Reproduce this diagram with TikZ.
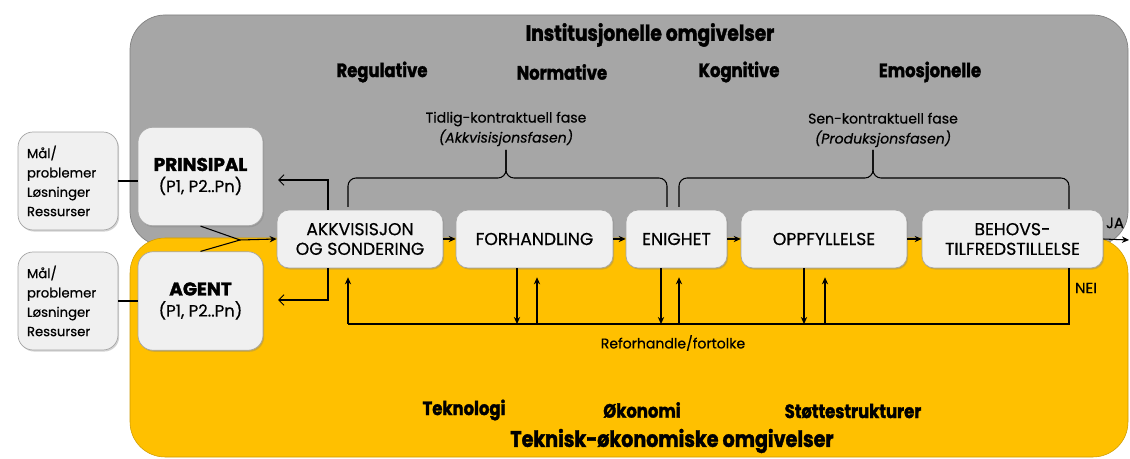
\documentclass[tikz,border=0pt]{standalone}
\usepackage{fontspec}
\setmainfont{Poppins}
\newfontfamily\heavyfont{Poppins}[FakeStretch=0.85, BoldFeatures={FakeBold=1.6}]
\newfontfamily\boxfont{Poppins}[FakeBold=0.5, BoldFeatures={FakeBold=1.8}]
\usetikzlibrary{arrows.meta,shadows}

\definecolor{instgray}{HTML}{A6A6A6}
\definecolor{tekyellow}{HTML}{FFC000}
\definecolor{boxfill}{HTML}{F0F0F0}

\tikzset{
  card/.style={draw=gray!70, line width=0.4pt, fill=boxfill, align=center, inner sep=0pt,
    drop shadow={shadow xshift=0.7pt, shadow yshift=-0.9pt, opacity=0.35}},
  procbox/.style={card, rounded corners=0.24cm, minimum height=1.16cm, font=\boxfont\fontsize{9.8}{11.2}\selectfont},
  actorbox/.style={card, rounded corners=0.3cm, minimum width=2.5cm, minimum height=1.97cm, font=\boxfont\fontsize{9.4}{12}\selectfont},
  goalbox/.style={card, rounded corners=0.3cm, minimum width=2cm, minimum height=1.96cm,
    text width=1.64cm, align=left, font=\boxfont\fontsize{7.5}{11}\selectfont},
  fwd/.style={-{Stealth[length=4pt,width=3.6pt]}, line width=0.6pt},
  opn/.style={-{Straight Barb[length=3pt,width=6pt]}, line width=0.6pt},
  title/.style={font=\heavyfont\bfseries\fontsize{12.5}{14}\selectfont},
  pillar/.style={font=\heavyfont\bfseries\fontsize{11}{13}\selectfont},
  phase/.style={align=center, font=\boxfont\fontsize{8}{11.4}\selectfont},
}

\begin{document}
\begin{tikzpicture}[x=0.02cm,y=-0.02cm]

\useasboundingbox (0,0) rectangle (1130,459);

\fill[instgray, draw=gray, line width=0.4pt, rounded corners=0.7cm] (130,15) rectangle (1128,246);
\fill[tekyellow, draw=tekyellow!80!black, line width=0.3pt, rounded corners=0.7cm] (130,238) rectangle (1128,457);

\node[title] (inst) at (650,35) {Institusjonelle omgivelser};
\node[pillar] (reg) at (382,72) {Regulative};
\node[pillar] (norm) at (562,72) {Normative};
\node[pillar] (kogn) at (739,72) {Kognitive};
\node[pillar] (emo) at (930,72) {Emosjonelle};

\node[pillar] (tek) at (464,410) {Teknologi};
\node[pillar] (oko) at (642,410) {Økonomi};
\node[pillar] (stotte) at (853,411) {Støttestrukturer};
\node[title, font=\heavyfont\bfseries\fontsize{12.8}{14}\selectfont] (teknisk) at (672,441) {Teknisk-økonomiske omgivelser};

\node[goalbox] (malP) at (68,181) {Mål/\\problemer\\Løsninger\\Ressurser};
\node[goalbox] (malA) at (68,301) {Mål/\\problemer\\Løsninger\\Ressurser};

\node[actorbox] (prin) at (200.5,176.5) {{\bfseries\fontsize{10.5}{12}\selectfont PRINSIPAL}\\(P1, P2..Pn)};
\node[actorbox] (agent) at (200.5,301) {{\bfseries\fontsize{10.5}{12}\selectfont AGENT}\\(P1, P2..Pn)};

\node[procbox, minimum width=3.32cm] (akk) at (360,239) {AKKVISISJON\\OG SONDERING};
\node[procbox, minimum width=3.14cm] (forh) at (534.5,239) {FORHANDLING};
\node[procbox, minimum width=2.02cm] (enig) at (676.5,239) {ENIGHET};
\node[procbox, minimum width=3.32cm] (oppf) at (824,239) {OPPFYLLELSE};
\node[procbox, minimum width=3.62cm] (behov) at (1012.5,239) {BEHOVS-\\TILFREDSTILLELSE};

\draw[line width=0.6pt] (malP.east) -- (malP.east -| prin.west);
\draw[line width=0.6pt] (malA.east) -- (malA.east -| agent.west);

\coordinate (mrg) at (240,240);
\draw[line width=0.6pt] (prin.south) -- (mrg);
\draw[line width=0.6pt] (agent.north) -- (mrg);
\draw[fwd] (mrg) -- (akk.west);

\coordinate (kP) at (328,180);
\coordinate (kA) at (328,300);
\coordinate (outP) at (278,180);
\coordinate (outA) at (278,300);
\draw[opn] (kP |- akk.north) -- (kP) -- (outP);
\draw[opn] (kA |- akk.south) -- (kA) -- (outA);

\draw[fwd] (akk) -- (forh);
\draw[fwd] (forh) -- (enig);
\draw[fwd] (enig) -- (oppf);
\draw[fwd] (oppf) -- (behov);

\coordinate (jaEnd) at (1129,240);
\draw[fwd] (behov.east) -- (jaEnd);
\node[font=\boxfont\fontsize{8.5}{10}\selectfont] (ja) at (1115,223) {JA};
\node[font=\boxfont\fontsize{8.5}{10}\selectfont] (nei) at (1086,288) {NEI};

\draw[rounded corners=0.16cm, line width=0.6pt] (348,207) |- (506,178) -- (506,150);
\draw[rounded corners=0.16cm, line width=0.6pt] (667,207) |- (506,178) -- (506,150);
\draw[rounded corners=0.16cm, line width=0.6pt] (679,207) |- (873,178) -- (873,150);
\draw[rounded corners=0.16cm, line width=0.6pt] (1069,209) |- (873,178) -- (873,150);

\node[phase] (tidlig) at (506,129) {Tidlig-kontraktuell fase\\\textit{(Akkvisisjonsfasen)}};
\node[phase] (sen) at (883,130) {Sen-kontraktuell fase\\\textit{(Produksjonsfasen)}};

\coordinate (loopL) at (348,324);
\coordinate (loopR) at (1069,324);
\draw[line width=0.6pt] (loopR |- behov.south) -- (loopR) -- (loopL);
\draw[fwd, shorten >=0.18cm] (loopL) -- (loopL |- akk.south);

\foreach \b/\d/\u in {forh/517/537, enig/661/679, oppf/804/825} {
  \coordinate (dn) at (\d,324);
  \coordinate (up) at (\u,324);
  \draw[fwd] (dn |- \b.south) -- (dn);
  \draw[fwd, shorten >=0.18cm] (up) -- (up |- \b.south);
}

\node[phase] (refor) at (673,343) {Reforhandle/fortolke};

\end{tikzpicture}
\end{document}
